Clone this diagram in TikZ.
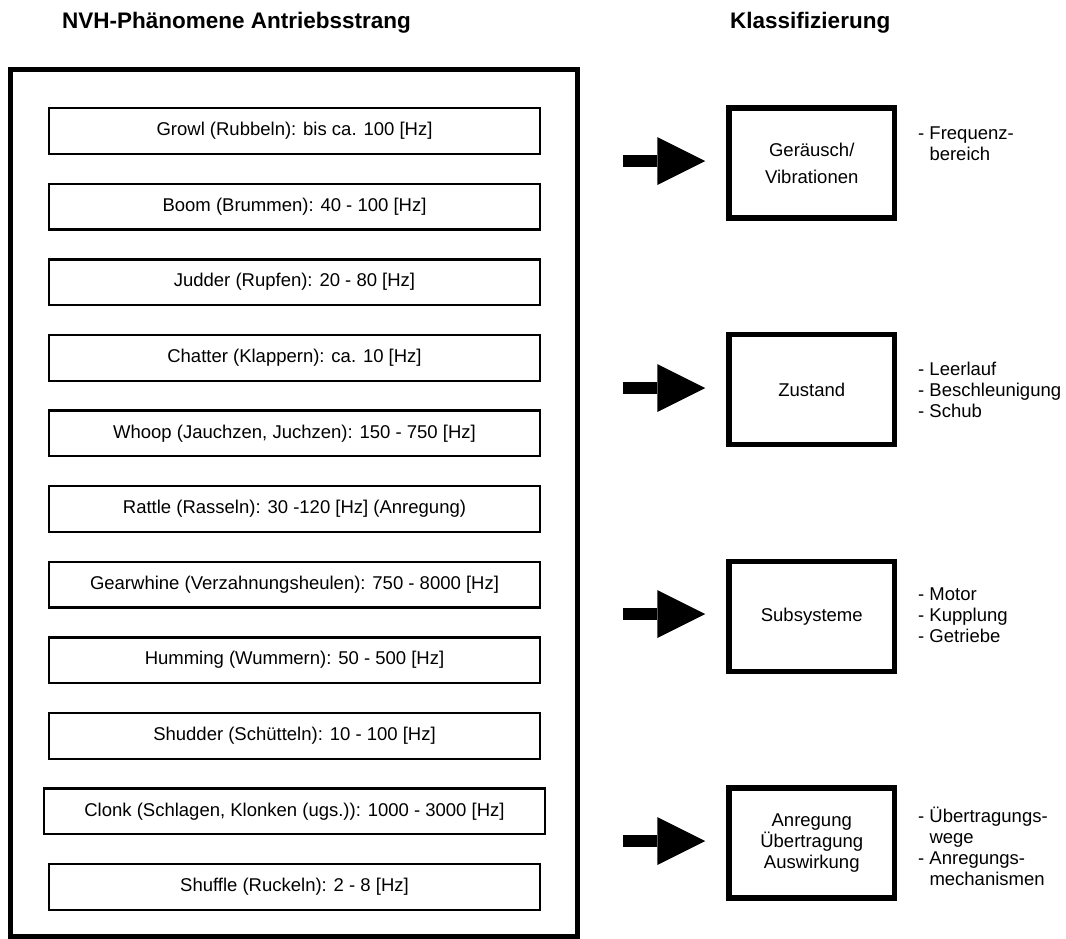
\documentclass[tikz,border=0pt]{standalone}
\usepackage{fontspec}
\setmainfont{Liberation Sans}
\usetikzlibrary{arrows.meta}

\tikzset{
  outerframe/.style={draw,line width=5pt,inner sep=0pt,minimum width=567.5pt,minimum height=867pt},
  phen/.style={draw,line width=2.3pt,inner sep=0pt,minimum width=490.6pt,minimum height=45.7pt,
    font=\fontsize{18.5}{22}\selectfont},
  klass/.style={draw,line width=5.5pt,inner sep=0pt,minimum width=165.5pt,minimum height=110pt,
    align=center,font=\fontsize{18.5}{24}\selectfont},
  sidenote/.style={anchor=west,align=left,inner sep=0pt,font=\fontsize{18.5}{21}\selectfont},
  heading/.style={anchor=base west,inner sep=0pt,font=\bfseries\fontsize{22.5}{27}\selectfont},
  blockarrow/.style={line width=12pt,-{Triangle[length=48pt,width=48pt,line width=0pt]},shorten >=21pt}
}

\begin{document}
\begin{tikzpicture}[x=1pt,y=-1pt]
  \useasboundingbox (0,0) rectangle (1066,938);
  \node[heading] (lefthead) at (62,28) {NVH-Phänomene Antriebsstrang};
  \node[heading] (righthead) at (730,28) {Klassifizierung};

  % phenomena, 75.6 apart
  \node[outerframe] (frame) at (293.75,502.5) {};
  \node[phen] (growl) at (294.5,131) {Growl (Rubbeln): bis ca. 100 [Hz]};
  \node[phen] (boom) at (294.5,206.6) {Boom (Brummen): 40 - 100 [Hz]};
  \node[phen] (judder) at (294.5,282.2) {Judder (Rupfen): 20 - 80 [Hz]};
  \node[phen] (chatter) at (294.5,357.8) {Chatter (Klappern): ca. 10 [Hz]};
  \node[phen] (whoop) at (294.5,433.4) {Whoop (Jauchzen, Juchzen): 150 - 750 [Hz]};
  \node[phen] (rattle) at (294.5,509) {Rattle (Rasseln): 30 -120 [Hz] (Anregung)};
  \node[phen] (gearwhine) at (294.5,584.6) {Gearwhine (Verzahnungsheulen): 750 - 8000 [Hz]};
  \node[phen] (humming) at (294.5,660.2) {Humming (Wummern): 50 - 500 [Hz]};
  \node[phen] (shudder) at (294.5,735.8) {Shudder (Schütteln): 10 - 100 [Hz]};
  \node[phen,minimum width=500.7pt] (clonk) at (294.5,811.4) {Clonk (Schlagen, Klonken (ugs.)): 1000 - 3000 [Hz]};
  \node[phen] (shuffle) at (294.5,887) {Shuffle (Ruckeln): 2 - 8 [Hz]};

  % classification
  \node[klass,font=\fontsize{18.5}{27}\selectfont] (geraeusch) at (811.75,163) {Geräusch/\\Vibrationen};
  \node[klass] (zustand) at (811.75,389.7) {Zustand};
  \node[klass] (subsys) at (811.75,616.4) {Subsysteme};
  \node[klass,font=\fontsize{18.5}{21}\selectfont] (anregung) at (811.75,843) {Anregung\\Übertragung\\Auswirkung};

  \node[sidenote] (n1) at (918,144) {- Frequenz-\\\hphantom{- }bereich};
  \node[sidenote] (n2) at (918,390) {- Leerlauf\\- Beschleunigung\\- Schub};
  \node[sidenote] (n3) at (918,615) {- Motor\\- Kupplung\\- Getriebe};
  \node[sidenote] (n4) at (918,846) {- Übertragungs-\\\hphantom{- }wege\\- Anregungs-\\\hphantom{- }mechanismen};

  \coordinate (a1) at (623,161);
  \coordinate (a2) at (623,388);
  \coordinate (a3) at (623,614);
  \coordinate (a4) at (623,841);
  \draw[blockarrow] (a1) -- (a1 -| geraeusch.west);
  \draw[blockarrow] (a2) -- (a2 -| zustand.west);
  \draw[blockarrow] (a3) -- (a3 -| subsys.west);
  \draw[blockarrow] (a4) -- (a4 -| anregung.west);
\end{tikzpicture}
\end{document}
